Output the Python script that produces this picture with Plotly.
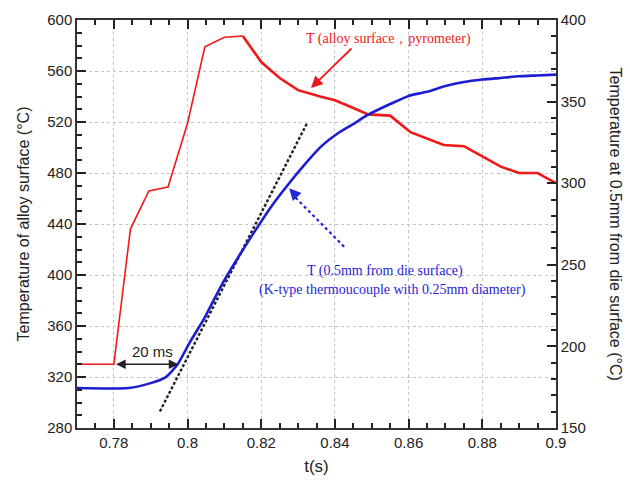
import plotly.graph_objects as go

# Red: alloy surface temperature (left axis, °C)
red_t = [0.770, 0.780, 0.7845, 0.7895, 0.7947, 0.800, 0.8047, 0.810, 0.815]
red_T = [330, 330, 436, 466, 469, 519, 579, 586.5, 587.5]
red2_t = [0.815, 0.820, 0.825, 0.830, 0.836, 0.840, 0.845, 0.849, 0.855, 0.8605,
          0.8695, 0.875, 0.880, 0.885, 0.890, 0.895, 0.900]
red2_T = [587.5, 567, 554.5, 545, 540, 537, 531, 526, 525, 512,
          502, 501, 493, 485, 480, 480, 472]

# Blue: 0.5 mm from die surface (right axis, °C)
blue_t = [0.770, 0.784, 0.790, 0.794, 0.7973, 0.8005, 0.8045, 0.8091, 0.8136, 0.8181,
          0.8227, 0.8272, 0.8317, 0.8362, 0.8408, 0.8453, 0.8489, 0.855, 0.860, 0.865,
          0.870, 0.875, 0.880, 0.885, 0.890, 0.895, 0.900]
blue_T = [174.5, 174.5, 177.5, 181, 189, 202, 217, 237, 254, 270,
          285.6, 298.9, 311.2, 322.4, 330.6, 336.7, 341.8, 348.5, 353.5, 356,
          359.5, 362, 363.5, 364.5, 365.5, 366, 366.5]

# Tangent (left axis)
tan_t = [0.7925, 0.8326]
tan_T = [293, 520]

# Blue dotted pointer (left axis coords)
ptr_t = [0.8425, 0.8285]
ptr_T = [422.2, 463]

X_RANGE = [0.77, 0.9]
YL_RANGE = [280, 600]
YR_RANGE = [150, 400]

fig = go.Figure()
fig.add_trace(go.Scatter(x=red_t, y=red_T, mode="lines",
                         line=dict(color="#f01818", width=1.6), showlegend=False))
fig.add_trace(go.Scatter(x=red2_t, y=red2_T, mode="lines",
                         line=dict(color="#f01818", width=2.6), showlegend=False))
fig.add_trace(go.Scatter(x=tan_t, y=tan_T, mode="lines",
                         line=dict(color="#222222", width=2.4, dash="3px,2px"), showlegend=False))
fig.add_trace(go.Scatter(x=ptr_t, y=ptr_T, mode="lines",
                         line=dict(color="#2424d8", width=2.2, dash="dot"), showlegend=False))
fig.add_trace(go.Scatter(x=blue_t, y=blue_T, mode="lines", yaxis="y2",
                         line=dict(color="#1c1cd0", width=2.6, shape="spline", smoothing=0.6),
                         showlegend=False))

tickfont = dict(family="Liberation Sans", size=15, color="#222222")
minor_common = dict(ticks="inside", ticklen=5, tickwidth=1.8, tickcolor="#222222",
                    showgrid=False)

fig.update_layout(
    width=630, height=490,
    margin=dict(l=77, r=74, t=20, b=62),
    paper_bgcolor="white", plot_bgcolor="rgba(0,0,0,0)",
    xaxis=dict(range=X_RANGE, tickmode="linear", tick0=0.78, dtick=0.02, ticks="inside",
               ticklen=9, tickwidth=2, tickcolor="#222", showline=True, linecolor="#333",
               linewidth=1.5, mirror="ticks", showgrid=True, gridcolor="#c4c4c4",
               griddash="dot", gridwidth=1, zeroline=False, tickfont=tickfont,
               minor=dict(dtick=0.005, **minor_common),
               title=dict(text="t(s)", font=dict(family="Liberation Sans", size=17, color="#222"),
                          standoff=10)),
    yaxis=dict(range=YL_RANGE, tickmode="linear", tick0=280, dtick=40, ticks="inside",
               ticklen=9, tickwidth=2, tickcolor="#222", showline=True, linecolor="#333",
               linewidth=1.5, showgrid=True, gridcolor="#c4c4c4", griddash="dot", gridwidth=1,
               zeroline=False, tickfont=tickfont,
               minor=dict(dtick=10, **minor_common),
               title=dict(text="Temperature of alloy surface (°C)",
                          font=dict(family="Liberation Sans", size=16, color="#222"), standoff=14)),
    yaxis2=dict(range=YR_RANGE, tickmode="linear", tick0=150, dtick=50, overlaying="y",
                side="right", ticks="inside", ticklen=9, tickwidth=2, tickcolor="#222",
                showline=True, linecolor="#333", linewidth=1.5, showgrid=False, zeroline=False,
                tickfont=tickfont,
                minor=dict(dtick=10, **minor_common)),
)

fig.add_annotation(text="Temperature at 0.5mm from die surface (°C)", textangle=90,
                   xref="paper", yref="paper", x=1.148, y=0.5, showarrow=False,
                   font=dict(family="Liberation Sans", size=16, color="#222"))

# 20 ms double arrow
fig.add_annotation(x=0.7975, y=330, ax=0.7802, ay=330, xref="x", yref="y", axref="x", ayref="y",
                   text="", showarrow=True, arrowhead=2, arrowside="end+start",
                   arrowsize=1.2, arrowwidth=1.6, arrowcolor="#222")
fig.add_annotation(x=0.7905, y=340, xref="x", yref="y", text="20 ms", showarrow=False,
                   font=dict(family="Liberation Sans", size=15, color="#222"))

# Red label and arrow
fig.add_annotation(x=0.8335, y=546.7, ax=0.8449, ay=578.8, xref="x", yref="y",
                   axref="x", ayref="y", text="", showarrow=True, arrowhead=2,
                   arrowsize=1.3, arrowwidth=1.8, arrowcolor="#f01818")
fig.add_annotation(x=0.8545, y=585, xref="x", yref="y",
                   text="T (alloy surface，pyrometer)", showarrow=False,
                   font=dict(family="Liberation Serif", size=14, color="#f01818"))

# Blue pointer head
fig.add_annotation(x=0.8276, y=468, ax=0.8295, ay=462, xref="x", yref="y",
                   axref="x", ayref="y", text="", showarrow=True, arrowhead=2,
                   arrowsize=1.3, arrowwidth=1.8, arrowcolor="#2424d8")

# Blue label
fig.add_annotation(x=0.8535, y=403, xref="x", yref="y",
                   text="T (0.5mm from die surface)", showarrow=False,
                   font=dict(family="Liberation Serif", size=14, color="#2424d8"))
fig.add_annotation(x=0.8555, y=388, xref="x", yref="y",
                   text="(K-type thermoucouple with 0.25mm diameter)", showarrow=False,
                   font=dict(family="Liberation Serif", size=14, color="#2424d8"))

fig.write_html("out.html")
